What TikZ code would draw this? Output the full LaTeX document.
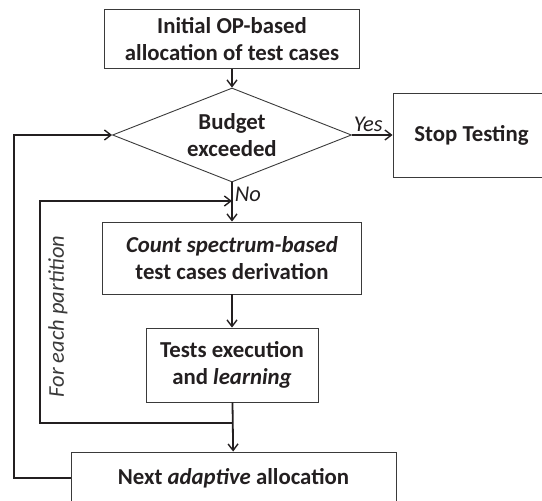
\documentclass[tikz,border=0pt]{standalone}
\usepackage{fontspec}
\setmainfont{Carlito}
\usetikzlibrary{shapes.geometric,arrows.meta}
\definecolor{ink}{HTML}{231F20}
\definecolor{edge}{HTML}{3A3A3A}

\begin{document}
\begin{tikzpicture}[
    x=1pt, y=-1pt,
    box/.style={draw=edge, line width=0.9pt, align=center, inner sep=0pt, text=ink,
        font=\fontsize{22.8}{27.5}\selectfont\bfseries},
    decision/.style={box, diamond, aspect=2.5},
    arrow/.style={-{Straight Barb[length=6.5pt,width=10pt,line width=1.4pt]}, line width=1.8pt, draw=ink},
    lbl/.style={font=\fontsize{22.5}{27}\selectfont\itshape, text=ink, inner sep=2pt}
]
\useasboundingbox (0,0) rectangle (542,501);
\clip (0,0) rectangle (542,501);

% Main flow boxes
\node[box, minimum width=255pt, minimum height=59pt] (init) at (232,39) {Initial OP-based\\allocation of test cases};
\node[decision, minimum width=239pt, minimum height=94pt] (budget) at (232,135) {Budget\\exceeded};
\node[box, minimum width=157pt, minimum height=84pt] (stop) at (471.5,135) {Stop Testing};
\node[box, minimum width=259pt, minimum height=72pt] (count) at (232,258) {\itshape Count spectrum-based\\test cases derivation};
\node[box, minimum width=172pt, minimum height=74pt] (tests) at (232,365) {Tests execution\\and \textit{learning}};
\node[box, minimum width=325pt, minimum height=52pt] (next) at (233.5,478) {Next \textit{adaptive} allocation};

% Loop corners
\coordinate (pjoin) at (232,423);
\coordinate (innerbot) at (40,423);
\coordinate (innertop) at (40,201);
\coordinate (ntop) at (232,201);
\coordinate (outerbot) at (14,478);
\coordinate (outertop) at (14,135);

% Arrows of the flow
\draw[arrow] (init) -- (budget);
\draw[arrow] (budget) -- node[lbl, above, pos=0.4] {Yes} (stop);
\draw[arrow] (budget) -- node[lbl, right, pos=0.3] {No} (count);
\draw[arrow] (count) -- (tests);
\draw[arrow] (tests) -- (next);

% Loops back
\draw[arrow] (pjoin) -- (innerbot) -- (innertop) -- (ntop);
\draw[arrow] (next.west) -- (outerbot) -- (outertop) -- (budget.west);
\node[lbl, rotate=90, text=edge] (part) at (58,316.5) {For each partition};

\end{tikzpicture}
\end{document}
